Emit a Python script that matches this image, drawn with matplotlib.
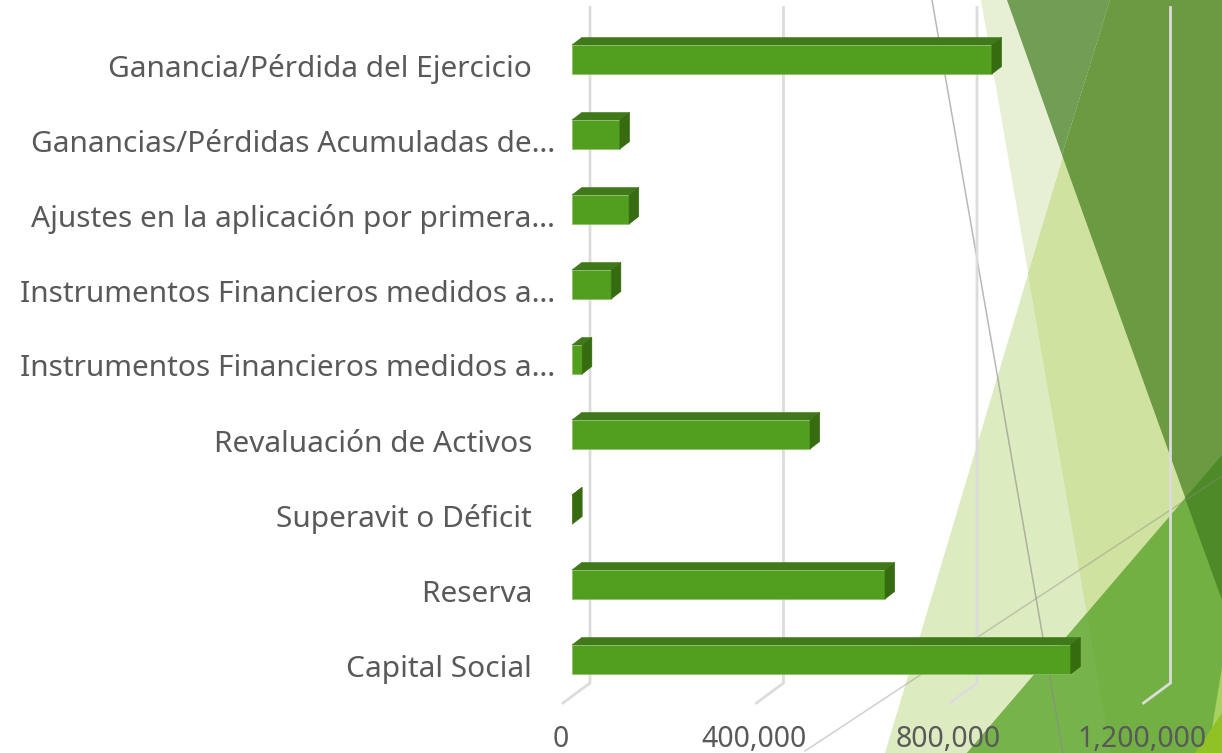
import matplotlib
matplotlib.use('Agg')
import matplotlib.pyplot as plt
from matplotlib.patches import Polygon
from matplotlib.transforms import ScaledTranslation

# Chart data
categories = ['Ganancia/Pérdida del Ejercicio\u00a0\u00a0\u00a0', 'Ganancias/Pérdidas Acumuladas de…',
              'Ajustes en la aplicación por primera…', 'Instrumentos Financieros medidos a…',
              'Instrumentos Financieros medidos a…', 'Revaluación de Activos\u00a0\u00a0\u00a0',
              'Superavit o Déficit\u00a0\u00a0\u00a0', 'Reserva\u00a0\u00a0\u00a0', 'Capital Social\u00a0\u00a0\u00a0']
values = [868000, 99000, 118000, 81000, 21000, 492000, 1000, 647000, 1031000]
x_ticks = [0, 400000, 800000, 1200000]

W, H = 1222, 753
plt.rcParams['font.family'] = ['Noto Sans', 'DejaVu Sans']
fig = plt.figure(figsize=(W / 100, H / 100), dpi=100, facecolor='white')

# Background facets, in pixel coordinates
bg = fig.add_axes([0, 0, 1, 1], zorder=0)
bg.set_xlim(0, W)
bg.set_ylim(H, 0)
bg.axis('off')

bg.add_patch(Polygon([(981, 0), (1222, 0), (1222, 753), (1111, 753)], fc='#E7F0D5', lw=0))
bg.add_patch(Polygon([(1110, 0), (1222, 0), (1222, 753), (885, 753)], fc='#DDEBC0', lw=0))
bg.add_patch(Polygon([(1110, 0), (1222, 0), (1222, 753), (1111, 753), (1028, 274)], fc='#D0E29F', lw=0))
bg.add_patch(Polygon([(1007, 0), (1110, 0), (1062, 155)], fc='#729D54', lw=0))
bg.add_patch(Polygon([(1110, 0), (1222, 0), (1222, 600), (1062, 155)], fc='#6B9A42', lw=0))
bg.add_patch(Polygon([(967, 753), (1222, 455), (1222, 753)], fc='#72B043', lw=0))
bg.add_patch(Polygon([(967, 753), (1111, 753), (1087, 613)], fc='#77B34B', lw=0))
bg.add_patch(Polygon([(1185, 498), (1222, 455), (1222, 600)], fc='#4E8A28', lw=0))
bg.add_patch(Polygon([(1222, 667), (1222, 753), (1208, 753)], fc='#A9D15F', lw=0))
bg.add_patch(Polygon([(1222, 713), (1222, 753), (1195, 753)], fc='#90C226', lw=0))
bg.plot([932, 1063], [0, 753], color='#8a8a8a', alpha=0.6, lw=1.1)
bg.plot([805, 1222], [751, 476], color='#8a8a8a', alpha=0.4, lw=1.1)

# Main axes, bar base at x=572 and one category per 75 px
ax = fig.add_axes([572 / W, 1 - 697 / H, 580.5 / W, 675 / H], zorder=1)
ax.patch.set_alpha(0)
for s in ax.spines.values():
    s.set_visible(False)

px_x = 1200000 / 580.5
px_y = 9 / 675
ypos = list(range(len(categories)))

# Walls of the fake 3D chart
for t in x_ticks:
    gx = t + 18 * px_x
    ax.plot([gx, gx, t - 9 * px_x], [-0.5 - 14.5 * px_y, 8.5 - 14 * px_y, 8.5 + 6 * px_y],
            color='#DCDCDC', lw=2, clip_on=False, zorder=1, solid_joinstyle='miter')

# Bars
front = '#529E1E'
top_c = '#40791A'
side_c = '#366B10'
edge = '#8CBF6C'
bar_h = 29 * px_y
dx = 9.7 * px_x
dy = 7.5 * px_y
ax.barh(ypos, values, height=bar_h, color=front, edgecolor=edge, linewidth=0.5, zorder=3)
for y, v in zip(ypos, values):
    up = y - bar_h / 2
    lo = y + bar_h / 2
    ax.add_patch(Polygon([(0, up), (dx, up - dy), (v + dx, up - dy), (v, up)],
                         fc=top_c, ec=top_c, lw=0.4, zorder=2, clip_on=False))
    ax.add_patch(Polygon([(v, up), (v + dx, up - dy), (v + dx, lo - dy), (v, lo)],
                         fc=side_c, ec=side_c, lw=0.4, zorder=4, clip_on=False))

# Axis text
ax.set_yticks(ypos)
ax.set_yticklabels(categories, fontsize=21.5, color='#595959')
ax.set_xticks(x_ticks)
ax.set_xticklabels([format(t, ',') for t in x_ticks], fontsize=20.5, color='#595959')
ax.set_xlim(0, 1200000)
ax.set_ylim(8.5, -0.5)
ax.tick_params(axis='both', length=0)
ax.tick_params(axis='y', pad=12)
ax.tick_params(axis='x', pad=20)
shift_x = ScaledTranslation(-11 / 100, 0, fig.dpi_scale_trans)
shift_y = ScaledTranslation(0, -6 / 100, fig.dpi_scale_trans)
for lab in ax.get_xticklabels():
    lab.set_transform(lab.get_transform() + shift_x)
for lab in ax.get_yticklabels():
    lab.set_transform(lab.get_transform() + shift_y)

fig.savefig('out.png', dpi=100)
